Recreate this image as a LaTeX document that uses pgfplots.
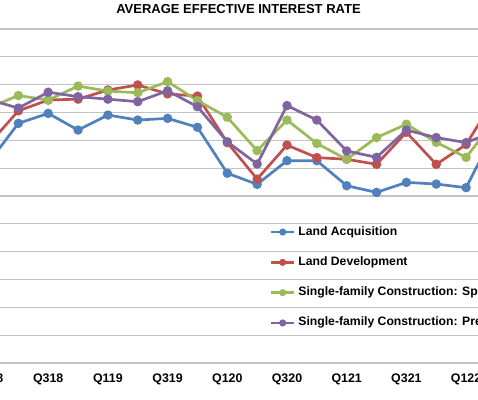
\documentclass[border=0pt]{standalone}
\usepackage{fontspec}
\setmainfont{Liberation Sans}
\usepackage{pgfplots}
\pgfplotsset{compat=1.18}
\definecolor{sblue}{HTML}{4F81BD}
\definecolor{sred}{HTML}{C0504D}
\definecolor{sgreen}{HTML}{9BBB59}
\definecolor{spurple}{HTML}{8064A2}
\definecolor{gridgray}{RGB}{195,195,195}
\begin{document}
\begin{tikzpicture}
\useasboundingbox (0pt,0pt) rectangle (478pt,399pt);
\clip (0pt,0pt) rectangle (478pt,399pt);
\node[anchor=base, font=\fontsize{13}{15}\selectfont\bfseries] at (238.5pt,385.2pt) {AVERAGE EFFECTIVE INTEREST RATE};
\begin{axis}[
  at={(-71.2pt,36pt)}, anchor=south west,
  x=29.85pt, y=27.83pt,
  xmin=-2, xmax=19, ymin=0, ymax=12,
  axis line style={draw=none},
  major tick length=0pt,
  ytick={0,1,...,12}, yticklabels={},
  ymajorgrids, grid style={gridgray, line width=1.2pt},
  xtick={0,2,...,16},
  xticklabels={\textbf{Q118},\textbf{Q318},\textbf{Q119},\textbf{Q319},\textbf{Q120},\textbf{Q320},\textbf{Q121},\textbf{Q321},\textbf{Q122}},
  xticklabel style={font=\fontsize{12.4}{14}\selectfont\bfseries, anchor=north, inner sep=0pt, yshift=-10.5pt},
  every axis plot/.append style={line width=2.7pt, mark=*, mark size=3.3pt},
  legend image code/.code={\draw[#1, line width=2.4pt, mark size=2.3pt, mark repeat=2, mark phase=2] plot coordinates {(0pt,0pt) (11.5pt,0pt) (23pt,0pt)};},
  legend cell align=left,
  legend style={at={(axis description cs:0.5443,0.256)}, anchor=west, draw=none, fill=none,
    inner sep=0pt, outer sep=0pt, column sep=3pt, row sep=18.3pt,
    font=\fontsize{12.2}{14}\selectfont\bfseries,
    nodes={inner sep=0pt, text height=9pt, text depth=3pt}},
  clip=false,
]
\addplot[color=sblue] coordinates {(0,7.20) (1,8.61) (2,8.97) (3,8.37) (4,8.91) (5,8.73) (6,8.79) (7,8.47) (8,6.82) (9,6.42) (10,7.27) (11,7.27) (12,6.37) (13,6.13) (14,6.49) (15,6.43) (16,6.30) (17,8.41)};
\addlegendentry{Land Acquisition}
\addplot[color=sred] coordinates {(0,7.85) (1,9.06) (2,9.45) (3,9.48) (4,9.81) (5,9.99) (6,9.67) (7,9.59) (8,7.92) (9,6.61) (10,7.83) (11,7.38) (12,7.32) (13,7.14) (14,8.29) (15,7.14) (16,7.85) (17,9.59)};
\addlegendentry{Land Development}
\addplot[color=sgreen] coordinates {(0,9.17) (1,9.61) (2,9.45) (3,9.95) (4,9.77) (5,9.71) (6,10.11) (7,9.43) (8,8.83) (9,7.63) (10,8.73) (11,7.89) (12,7.32) (13,8.10) (14,8.58) (15,7.93) (16,7.39) (17,8.77)};
\addlegendentry{Single-family Construction: Speculative}
\addplot[color=spurple] coordinates {(0,9.47) (1,9.16) (2,9.73) (3,9.57) (4,9.48) (5,9.39) (6,9.78) (7,9.21) (8,7.95) (9,7.15) (10,9.25) (11,8.73) (12,7.62) (13,7.39) (14,8.37) (15,8.10) (16,7.92) (17,8.34)};
\addlegendentry{Single-family Construction: Pre-sold}
\end{axis}
\end{tikzpicture}
\end{document}
